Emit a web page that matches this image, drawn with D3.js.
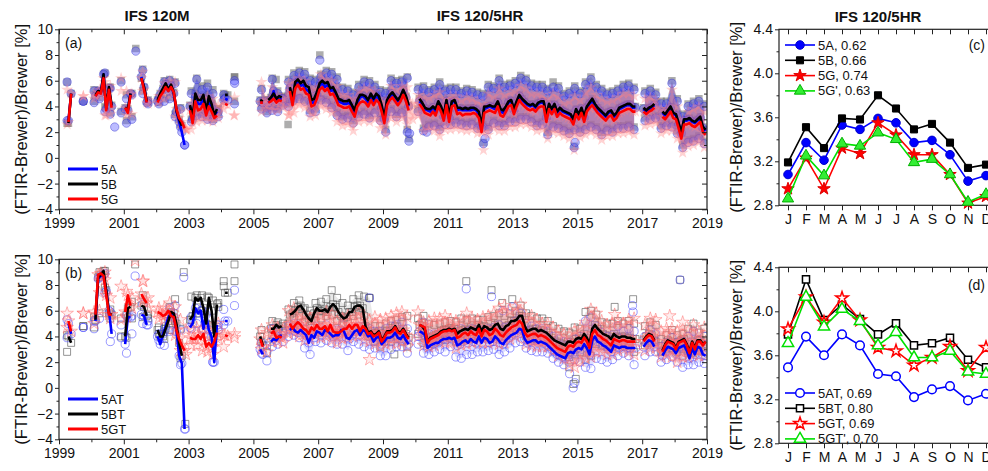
<!DOCTYPE html>
<html>
<head>
<meta charset="utf-8">
<script src="https://cdn.jsdelivr.net/npm/d3@7"></script>
<style>
  body { margin: 0; background: #fff; }
  svg { display: block; }
</style>
</head>
<body>
<svg id="chart" width="988" height="471"></svg>
<script>
const FONT = '"Liberation Sans", Arial, Helvetica, sans-serif';

// ---- panel (a): monthly means (Jan..Dec), "-" = no data ----
const a5A = `
1999 - - - 2.9 5.0 - - - - - - -
2000 - 4.8 5.2 5.1 6.5 3.8 5.4 4.0 - - - -
2001 3.8 3.7 5.0 - - - 6.3 5.5 4.3 - - -
2002 4.4 4.9 5.3 5.7 5.2 5.6 5.0 3.6 2.8 2.0 1.0 -
2003 4.0 3.0 4.7 4.2 4.2 4.6 3.6 4.4 3.9 3.3 3.6 -
2004 - 4.6 4.5 - - - - - - - - -
2005 - - 4.4 4.3 - 4.3 4.5 5.2 4.4 4.6 4.6 -
2006 - 5.4 4.4 5.6 5.9 5.6 5.7 5.3 5.2 4.3 4.3 4.9
2007 5.6 5.8 5.5 5.7 5.2 5.3 4.9 4.4 4.3 4.2 4.2 4.3
2008 3.9 3.5 4.3 4.7 4.8 4.6 4.3 4.8 4.4 4.8 4.6 3.9
2009 3.0 4.4 4.7 5.0 4.7 4.4 4.7 5.2 4.7 4.0 - -
2010 - 4.4 4.2 3.8 3.7 3.6 3.9 3.6 4.3 3.9 3.2 4.4
2011 3.1 4.3 4.4 3.7 3.8 3.7 3.7 3.7 3.7 3.8 3.7 3.4
2012 2.3 3.8 3.9 4.0 3.9 3.8 4.3 3.6 3.5 3.9 4.3 4.4
2013 3.7 4.3 4.8 4.5 4.3 4.1 4.0 4.1 3.9 4.2 4.3 4.3
2014 3.1 4.1 3.7 4.1 3.5 3.8 3.6 3.5 3.4 3.3 2.9 3.7
2015 3.3 3.8 3.1 3.9 4.2 4.4 4.1 3.8 3.6 3.4 3.2 3.5
2016 3.6 3.2 3.4 3.8 3.9 4.0 4.1 4.1 3.9 3.9 - -
2017 3.8 3.6 3.8 3.9 4.1 - - 3.5 3.3 3.6 3.9 3.4
2018 3.3 2.6 1.9 2.9 2.9 3.0 2.8 2.7 2.9 3.1 2.3 2.1`;

const a5B = `
1999 - - - 2.7 5.0 - - - - - - -
2000 - 4.9 5.2 5.1 6.5 3.9 5.5 4.1 - - - -
2001 3.9 3.8 5.0 - - - 6.2 5.5 4.4 - - -
2002 4.5 5.0 5.4 5.8 5.3 5.7 5.1 3.7 3.0 2.5 - -
2003 4.1 3.2 5.0 4.5 4.5 4.9 3.6 4.8 4.2 3.3 3.8 -
2004 - 4.9 4.9 - - - - - - - - -
2005 - - 4.5 4.4 - 4.5 4.7 5.0 4.6 4.8 4.7 -
2006 - 5.5 4.6 5.9 6.1 5.8 6.0 5.6 5.5 4.5 4.6 5.1
2007 5.8 6.0 5.8 5.9 5.4 5.5 5.1 4.6 4.5 4.4 4.4 4.5
2008 4.1 3.7 4.5 4.9 4.9 4.8 4.5 5.0 4.6 5.0 4.8 4.1
2009 3.1 4.5 4.9 5.1 4.8 4.5 4.8 5.3 4.8 4.1 - -
2010 - 4.6 4.3 3.9 3.8 3.8 4.0 3.8 4.4 4.0 3.3 4.5
2011 3.3 4.4 4.5 3.9 3.9 3.8 3.9 3.8 3.9 3.9 3.8 3.6
2012 2.5 4.0 4.0 4.1 4.0 4.0 4.4 3.8 3.7 4.0 4.4 4.5
2013 3.8 4.4 4.9 4.6 4.4 4.2 4.1 4.2 4.0 4.3 4.4 4.4
2014 3.3 4.2 3.8 4.2 3.6 3.9 3.7 3.6 3.5 3.4 3.0 3.8
2015 3.4 3.9 3.2 4.0 4.3 4.6 4.2 3.9 3.7 3.5 3.3 3.6
2016 3.7 3.3 3.5 3.9 4.0 4.1 4.2 4.2 4.0 4.0 - -
2017 3.9 3.7 3.9 4.0 4.2 - - 3.6 3.4 3.7 4.0 3.5
2018 3.4 2.7 2.0 3.0 3.0 3.1 2.9 2.8 3.0 3.2 2.4 2.2`;

const a5G = `
1999 - - - 2.8 5.0 - - - - - - -
2000 - 4.8 5.1 5.0 6.2 3.7 5.3 3.9 - - - -
2001 3.9 3.5 4.9 - - - 6.2 5.3 4.3 - - -
2002 4.3 4.8 5.1 5.5 5.2 5.5 5.1 3.8 3.1 2.8 2.3 -
2003 3.7 2.7 4.4 3.7 3.8 4.2 3.3 4.0 3.6 3.1 3.3 -
2004 - 4.2 4.1 - - - - - - - - -
2005 - - 4.3 4.3 - 4.3 4.4 4.6 4.3 4.5 4.4 -
2006 - 5.2 4.1 5.4 5.7 5.3 5.4 5.0 4.9 4.0 4.1 4.6
2007 5.3 5.5 5.2 5.4 4.9 5.0 4.6 4.1 4.0 3.9 3.9 4.0
2008 3.6 3.2 4.0 4.3 4.4 4.3 4.0 4.5 4.1 4.5 4.3 3.6
2009 2.7 4.1 4.5 4.7 4.4 4.1 4.4 4.9 4.4 3.7 - -
2010 - 4.2 3.9 3.5 3.4 3.3 3.6 3.3 4.0 3.6 2.9 4.1
2011 2.8 4.0 4.1 3.4 3.5 3.3 3.4 3.4 3.4 3.5 3.4 3.1
2012 2.0 3.5 3.6 3.7 3.6 3.5 4.0 3.3 3.2 3.6 4.0 4.1
2013 3.4 4.0 4.5 4.2 4.0 3.8 3.7 3.8 3.6 3.9 4.0 4.0
2014 2.8 3.8 3.4 3.8 3.2 3.5 3.3 3.2 3.1 3.0 2.6 3.4
2015 3.0 3.5 2.8 3.6 3.9 4.1 3.8 3.5 3.3 3.1 2.9 3.2
2016 3.3 2.9 3.1 3.5 3.6 3.7 3.8 3.8 3.6 3.6 - -
2017 3.6 3.4 3.6 3.7 3.9 - - 3.2 3.0 3.3 3.6 3.1
2018 3.0 2.3 1.5 2.6 2.6 2.7 2.5 2.4 2.6 2.8 2.0 1.8`;

// ---- panel (a): scatter cloud, upper / lower edge per two months ----
const a5AHi = `
1999 - 5.9 - - 4.4 -
2000 5.2 5.1 6.6 5.4 - 5.9
2001 4.6 4.9 - 6.8 4.4 -
2002 4.6 5.9 6.0 5.8 3.8 -
2003 5.0 6.1 5.3 5.5 5.0 3.6
2004 4.9 - 6.0 - - -
2005 - 5.3 4.4 6.1 5.0 4.6
2006 5.9 6.4 6.6 6.5 6.0 5.9
2007 6.3 6.6 6.5 6.1 5.3 5.2
2008 4.9 5.5 5.9 5.8 5.5 5.1
2009 5.0 6.0 5.8 5.9 6.2 -
2010 5.3 5.4 5.1 5.3 5.7 5.2
2011 5.3 5.3 5.0 5.2 5.1 4.9
2012 4.8 5.5 5.4 6.0 5.5 5.6
2013 5.8 6.2 6.0 5.6 5.5 5.5
2014 5.2 5.5 5.4 4.8 5.0 5.4
2015 5.0 5.7 6.1 5.5 5.2 4.9
2016 5.0 5.2 5.5 5.6 5.3 -
2017 5.0 5.2 4.9 4.2 4.2 5.8
2018 4.4 3.2 4.0 4.2 4.4 4.0`;
const a5ALo = `
1999 - 2.9 - - 4.4 -
2000 4.3 4.6 3.6 3.4 - 3.5
2001 2.7 3.0 - 5.0 4.2 -
2002 4.2 4.4 4.6 3.2 2.4 -
2003 2.8 3.3 3.2 3.0 2.9 3.2
2004 4.5 - 4.2 - - -
2005 - 3.8 3.5 3.7 3.6 4.1
2006 4.0 4.5 4.6 4.4 3.5 3.6
2007 4.5 4.3 3.9 3.3 3.0 3.1
2008 2.7 3.2 3.4 3.1 3.5 2.9
2009 2.0 3.6 3.2 3.5 2.0 -
2010 3.6 2.1 2.4 2.5 2.2 2.6
2011 2.6 2.7 2.6 2.5 2.6 2.3
2012 2.4 2.2 2.7 2.5 2.5 2.8
2013 2.8 3.0 3.0 2.8 2.5 2.6
2014 1.8 2.4 2.3 2.1 1.9 2.2
2015 2.0 2.2 2.4 2.2 1.8 2.1
2016 2.0 2.3 2.3 2.4 2.2 -
2017 2.9 3.0 3.1 2.3 2.5 2.4
2018 1.9 0.8 1.2 1.3 1.5 1.1`;
const a5BHi = `
1999 - 5.9 - - 4.4 -
2000 5.3 5.2 6.6 5.5 - 6.0
2001 4.9 5.0 - 6.9 4.5 -
2002 4.7 6.0 6.1 5.9 3.9 -
2003 5.2 6.2 5.6 5.8 5.3 3.8
2004 5.0 - 6.3 - - -
2005 - 5.4 4.5 6.2 5.2 4.8
2006 6.1 6.6 6.8 6.7 6.2 6.1
2007 6.5 6.8 6.7 6.3 5.5 5.4
2008 5.1 5.7 6.1 6.0 5.7 5.3
2009 5.2 6.2 6.0 6.1 6.3 -
2010 5.5 5.6 5.3 5.5 5.9 5.4
2011 5.5 5.5 5.2 5.4 5.3 5.1
2012 5.0 5.7 5.6 6.2 5.7 5.8
2013 6.0 6.4 6.2 5.8 5.7 5.7
2014 5.4 5.9 5.6 5.0 5.2 5.6
2015 5.2 5.9 6.3 5.7 5.4 5.1
2016 5.2 5.4 5.7 5.8 5.5 -
2017 5.2 5.4 5.1 4.4 4.4 6.0
2018 4.6 3.4 4.2 4.4 4.6 4.2`;
const a5BLo = `
1999 - 2.7 - - 4.4 -
2000 4.4 4.7 4.0 3.5 - 3.6
2001 2.9 3.2 - 5.2 4.3 -
2002 4.3 4.6 4.7 3.4 2.6 -
2003 3.0 3.5 3.4 3.2 3.0 3.4
2004 4.7 - 4.4 - - -
2005 - 3.9 3.6 3.9 3.8 4.2
2006 4.2 4.6 4.7 4.5 3.7 3.8
2007 4.6 4.5 4.1 3.5 3.2 3.3
2008 2.9 3.4 3.6 3.3 3.7 3.1
2009 2.2 3.8 3.4 3.7 2.2 -
2010 3.8 2.3 2.6 2.7 2.4 2.8
2011 2.8 2.9 2.8 2.7 2.8 2.5
2012 2.6 2.4 2.9 2.7 2.7 3.0
2013 3.0 3.2 3.2 3.0 2.7 2.8
2014 2.0 2.6 2.5 2.3 2.1 2.3
2015 2.2 2.4 2.6 2.4 2.0 2.3
2016 2.2 2.5 2.5 2.6 2.4 -
2017 3.1 3.2 3.3 2.5 2.7 2.6
2018 2.1 1.0 1.4 1.5 1.7 1.3`;
const a5GHi = `
1999 - 5.3 - - 4.8 -
2000 5.0 5.3 5.9 5.6 - 6.2
2001 5.2 5.0 - 6.7 4.5 -
2002 4.8 5.8 6.0 5.9 3.6 2.2
2003 4.2 4.8 4.6 4.8 4.6 4.1
2004 4.4 - 4.7 - - -
2005 - 5.9 4.5 5.5 4.9 4.6
2006 5.8 6.0 6.2 6.0 5.5 5.4
2007 6.5 6.1 6.0 5.6 4.9 4.9
2008 4.6 5.2 5.4 5.4 5.2 4.6
2009 4.4 5.6 5.3 5.6 5.5 4.2
2010 4.9 4.8 4.7 4.9 5.1 4.6
2011 4.8 4.8 4.5 4.7 4.6 4.4
2012 4.2 5.0 4.8 5.4 4.9 5.1
2013 5.2 5.6 5.4 5.0 5.0 4.9
2014 4.6 5.0 4.8 4.3 4.4 4.8
2015 4.5 5.1 5.5 4.9 4.6 4.4
2016 4.5 4.7 5.0 5.0 4.8 -
2017 4.6 4.7 4.5 3.8 3.8 5.3
2018 4.0 2.9 3.6 3.8 4.0 3.6`;
const a5GLo = `
1999 - 2.6 - - 4.8 -
2000 4.6 4.8 3.3 3.4 - 5.2
2001 3.3 3.4 - 5.2 4.2 -
2002 4.4 4.6 4.8 3.2 2.6 2.2
2003 2.2 2.8 2.9 2.9 2.8 3.1
2004 3.8 - 3.3 - - -
2005 - 3.6 3.8 3.7 3.7 3.9
2006 3.3 3.5 4.1 3.9 3.2 3.3
2007 4.0 3.8 3.5 2.8 2.5 2.6
2008 2.1 2.8 2.9 2.8 3.0 2.3
2009 1.8 3.1 2.8 3.1 2.6 3.0
2010 3.3 2.1 2.2 2.1 1.7 2.2
2011 2.2 2.3 2.2 2.1 2.2 1.9
2012 2.0 1.8 2.3 2.1 2.1 2.4
2013 2.4 2.6 2.6 2.4 2.1 2.2
2014 1.5 2.0 1.9 1.7 1.5 1.8
2015 1.6 1.8 2.0 1.8 1.4 1.7
2016 1.7 1.9 1.9 2.0 1.8 -
2017 2.5 2.6 2.7 1.9 2.1 2.1
2018 1.5 0.4 0.9 1.0 1.2 0.8`;

// isolated points away from the cloud [year, %]
const a5AOut = [[2001.37, 8.3], [2007.05, 7.6], [2009.8, 1.3], [2009.82, 1.9], [2012.1, 1.1], [2012.15, 1.5], [2014.9, 0.8], [2014.93, 1.2], [2002.88, 1.0], [2000.72, 2.4], [2010.35, 2.0], [2004.42, 5.8]];
const a5BOut = [[2001.37, 8.5], [2006.07, 2.6], [2007.05, 8.0], [2009.8, 1.5], [2012.1, 1.2], [2014.9, 0.9], [2004.42, 6.3], [2005.7, 6.1]];
const a5GOut = [[2012.1, 0.6], [2014.9, 0.6], [2000.45, 3.3], [2004.4, 3.3], [2006.1, 3.3], [2002.95, 2.2]];

// ---- panel (b): monthly means ----
const b5AT = `
1999 - - - 5.0 4.2 - - - - - - -
2000 - 5.2 8.5 8.7 8.8 7.5 6.0 4.2 - - - -
2001 3.4 5.5 5.5 - - - 5.7 5.6 4.9 - - -
2002 4.0 3.4 4.2 4.8 5.5 5.8 5.5 4.4 2.5 1.9 -3.2 -
2003 4.7 5.0 6.2 5.8 6.0 4.6 5.7 4.5 4.0 2.0 4.9 -
2004 - 5.2 5.2 - - - - - - - - -
2005 - - 3.0 2.6 - - 3.6 3.8 3.7 4.0 4.1 -
2006 - 4.5 4.7 4.4 4.3 4.5 4.3 4.1 3.5 4.1 3.9 4.4
2007 4.3 4.1 4.5 4.4 4.2 4.0 4.1 4.1 4.5 4.4 3.9 3.8
2008 4.1 4.4 4.5 4.1 4.5 4.4 4.0 4.1 3.6 3.9 4.0 3.4
2009 3.6 3.9 3.9 4.0 4.3 3.9 3.8 4.1 3.7 3.4 - -
2010 - 4.4 4.3 4.1 3.1 3.3 3.4 3.5 3.5 3.7 3.8 3.8
2011 3.9 3.8 3.9 3.3 3.4 3.6 3.7 3.5 3.8 3.6 3.5 4.0
2012 3.5 3.9 3.8 3.5 3.6 4.0 3.8 3.5 3.4 3.7 3.9 4.1
2013 4.2 4.3 4.6 4.5 3.8 3.5 3.6 3.7 3.7 3.5 3.6 3.5
2014 3.4 3.2 3.0 2.8 2.6 2.5 2.4 2.3 2.7 2.8 2.7 3.0
2015 3.1 3.0 3.4 3.1 2.6 3.7 4.0 3.6 3.5 3.3 3.2 3.0
2016 2.8 3.3 3.2 3.1 3.2 3.2 3.1 3.1 3.1 3.1 - -
2017 3.2 3.5 3.7 3.6 3.2 - - 2.5 2.9 3.2 3.1 3.0
2018 2.7 3.1 3.2 3.3 2.9 2.3 3.1 2.6 3.2 3.1 2.6 2.5`;

const b5BT = `
1999 - - - 4.0 3.5 - - - - - - -
2000 - 5.3 8.6 8.8 9.1 7.6 5.8 5.7 - - - -
2001 4.0 6.2 6.3 - - - 6.4 6.3 5.6 - - -
2002 4.5 4.0 4.0 4.6 5.2 5.9 5.8 5.0 3.5 2.5 - -
2003 5.3 5.6 7.0 6.8 7.0 6.2 5.0 7.0 6.0 4.0 6.5 -
2004 - 7.4 7.4 - - - - - - - - -
2005 - - 4.0 3.3 - - 4.6 4.6 4.9 4.7 4.8 -
2006 - 5.7 5.8 6.0 6.3 6.4 6.1 5.7 5.4 5.2 5.8 6.2
2007 6.0 6.0 6.1 5.9 6.3 6.5 6.3 5.9 5.6 5.4 5.5 5.9
2008 5.9 6.3 6.4 6.4 6.2 4.8 4.3 4.4 4.1 4.2 4.4 3.7
2009 4.0 4.4 4.4 4.5 4.8 4.4 4.3 4.6 4.2 3.9 - -
2010 - 4.9 4.8 4.5 3.6 3.9 4.0 4.1 4.2 4.4 4.5 4.5
2011 4.6 4.5 4.6 4.2 4.4 4.5 4.6 4.5 4.7 4.6 4.5 4.9
2012 4.4 4.8 4.7 4.5 4.6 4.9 5.0 4.6 4.5 4.8 4.9 5.2
2013 5.2 5.3 5.6 5.6 4.8 4.4 4.5 4.6 4.6 4.4 4.5 4.4
2014 4.3 4.1 3.9 3.7 3.6 3.5 3.4 3.3 3.6 3.6 3.5 3.8
2015 3.9 3.8 4.2 3.9 3.4 4.6 4.9 4.6 4.4 4.2 4.1 4.0
2016 3.8 4.2 4.0 3.9 4.0 4.0 3.9 3.9 3.8 3.8 - -
2017 3.7 4.0 4.2 4.1 3.7 - - 2.9 3.4 3.7 3.6 3.5
2018 3.1 3.6 3.7 3.8 3.4 2.8 3.6 3.1 3.7 3.7 3.4 3.6`;

const b5GT = `
1999 - - - 5.2 4.4 - - - - - - -
2000 - 5.7 8.8 8.9 8.7 7.2 5.7 5.7 - - - -
2001 5.9 7.2 6.4 - - - 7.3 6.9 6.6 - - -
2002 5.9 5.8 5.6 5.7 6.0 5.6 5.5 4.5 3.8 3.3 2.9 -
2003 3.9 3.8 3.8 4.1 3.8 4.2 3.2 3.5 3.2 3.6 4.3 -
2004 - 4.1 4.0 - - - - - - - - -
2005 - - 3.8 3.2 - - 4.2 4.4 3.9 4.0 3.9 -
2006 - 5.0 4.6 4.9 5.1 4.9 4.6 4.5 4.2 4.7 4.5 4.9
2007 4.6 4.6 4.8 4.4 4.9 4.4 4.3 4.3 4.4 4.6 4.6 4.9
2008 4.6 4.9 4.9 4.4 4.8 4.6 4.2 4.3 4.0 4.1 4.3 3.6
2009 3.9 4.3 4.3 4.4 4.7 4.3 4.2 4.5 4.1 3.8 - -
2010 - 4.9 4.8 4.7 3.5 3.8 3.9 4.0 4.1 4.3 4.4 4.4
2011 4.5 4.4 4.5 3.9 4.0 4.2 4.3 4.1 4.4 4.2 4.1 4.6
2012 4.0 4.5 4.4 4.1 4.2 4.6 4.4 4.1 4.0 4.3 4.5 4.7
2013 4.8 4.9 5.2 5.0 4.3 4.0 4.1 4.2 4.2 4.0 4.1 4.0
2014 3.9 3.7 3.5 3.3 3.1 3.0 2.9 2.8 3.2 3.3 3.2 3.5
2015 3.6 3.5 3.9 3.6 3.1 4.2 4.5 4.1 4.0 3.8 3.7 3.5
2016 3.3 3.8 3.7 3.6 3.7 3.7 3.6 3.6 3.6 3.6 - -
2017 3.6 3.9 4.1 4.0 3.6 - - 2.8 3.3 3.6 3.5 3.4
2018 3.0 3.5 3.6 3.7 3.3 2.7 3.5 3.0 3.6 3.6 3.3 3.6`;

// ---- panel (b): scatter cloud edges per two months ----
const b5ATHi = `
1999 - 5.3 - - 4.7 -
2000 5.2 8.6 8.9 5.9 - 4.9
2001 5.6 5.6 - 6.5 5.2 -
2002 4.2 4.4 6.2 6.4 4.5 -
2003 5.5 6.5 6.0 5.9 4.2 4.9
2004 6.1 - 7.6 - - -
2005 - 3.5 2.8 4.6 4.5 4.3
2006 4.8 5.0 4.9 4.6 4.4 4.8
2007 4.7 4.9 4.6 4.5 4.9 4.2
2008 4.6 4.8 4.8 4.6 4.4 4.4
2009 4.6 4.8 4.9 5.1 4.6 -
2010 4.0 5.1 4.2 4.2 4.2 4.3
2011 4.4 4.2 4.6 4.4 4.6 4.5
2012 4.5 4.6 4.7 4.9 4.7 4.8
2013 5.2 5.8 5.0 4.8 4.6 4.6
2014 4.4 4.0 3.8 3.6 3.5 3.8
2015 4.0 5.2 5.5 4.8 4.3 4.0
2016 4.1 4.8 4.4 4.6 4.4 -
2017 4.0 4.5 4.2 3.2 3.5 3.9
2018 3.5 3.6 4.0 4.4 3.7 4.0`;
const b5ATLo = `
1999 - 3.9 - - 4.7 -
2000 4.6 5.4 7.4 3.6 - 3.9
2001 2.7 4.2 - 5.0 4.9 -
2002 3.7 3.3 4.4 4.4 1.8 -
2003 4.6 5.0 4.5 4.0 2.0 4.5
2004 4.9 - 6.4 - - -
2005 - 2.7 2.1 3.2 3.4 3.6
2006 4.0 4.1 3.9 3.1 2.6 3.6
2007 3.5 3.7 3.5 3.4 3.4 2.9
2008 3.6 3.4 3.2 3.0 3.1 2.5
2009 2.5 3.0 3.2 3.2 2.7 -
2010 3.4 2.7 2.6 2.8 3.0 2.8
2011 3.2 2.4 2.3 2.6 2.6 2.8
2012 2.8 2.9 3.0 2.6 2.8 3.1
2013 3.5 3.6 3.1 2.9 2.8 2.8
2014 2.7 2.3 2.0 1.8 2.0 2.2
2015 2.0 1.6 1.5 2.3 2.2 2.0
2016 2.2 2.5 2.7 2.5 1.8 -
2017 2.5 2.8 2.8 2.0 2.2 2.4
2018 2.0 1.6 1.8 1.8 2.0 1.9`;
const b5BTHi = `
1999 - 4.1 - - 4.8 -
2000 5.5 9.0 9.1 6.1 - 5.4
2001 5.7 6.7 - 7.2 5.7 -
2002 4.7 4.6 6.3 6.9 4.6 -
2003 7.1 7.2 7.2 7.1 6.8 6.6
2004 8.3 - 9.6 - - -
2005 - 4.5 3.3 5.2 5.1 5.0
2006 6.1 6.6 6.8 6.2 6.0 6.6
2007 6.7 6.9 7.6 7.0 6.6 6.4
2008 6.9 7.2 7.1 7.0 4.8 4.8
2009 5.0 5.2 5.3 5.5 5.6 -
2010 5.4 5.6 5.0 4.9 5.0 5.1
2011 5.2 5.1 5.4 5.3 5.4 5.3
2012 5.3 5.5 5.6 5.8 5.6 5.8
2013 6.0 6.4 5.8 5.6 5.4 5.4
2014 5.2 4.8 4.6 4.4 4.3 4.7
2015 4.6 5.9 6.0 5.7 5.1 5.0
2016 5.0 5.2 5.0 5.2 5.0 -
2017 4.8 5.1 4.9 3.8 4.1 4.5
2018 4.1 4.2 4.6 5.0 4.3 4.6`;
const b5BTLo = `
1999 - 2.8 - - 4.8 -
2000 4.7 5.8 7.8 5.4 - 4.0
2001 3.9 5.4 - 5.5 5.4 -
2002 4.2 3.8 4.5 5.2 2.3 -
2003 5.3 5.8 6.0 4.9 4.0 6.3
2004 7.9 - 8.3 - - -
2005 - 3.6 2.7 4.1 4.4 4.4
2006 5.0 5.4 5.6 5.1 4.8 5.2
2007 5.4 5.6 5.7 5.2 5.0 5.1
2008 5.6 5.7 5.6 4.0 3.6 3.2
2009 3.6 3.6 3.8 3.6 3.2 -
2010 4.2 3.5 3.4 3.6 3.8 3.7
2011 4.0 3.6 3.7 3.8 3.8 4.0
2012 3.9 4.0 4.1 4.0 4.2 4.3
2013 4.6 4.8 4.0 3.8 3.8 3.8
2014 3.8 3.4 3.0 2.8 2.4 2.6
2015 2.8 2.2 2.5 3.4 3.3 3.2
2016 3.2 3.4 3.5 3.3 2.8 -
2017 3.3 3.5 3.6 2.8 3.0 3.1
2018 2.8 2.5 2.7 2.7 2.9 2.8`;
const b5GTHi = `
1999 - 5.8 - - 5.8 -
2000 5.9 7.4 9.0 7.0 - 7.9
2001 7.5 7.0 - 8.3 7.0 -
2002 6.2 6.2 6.6 6.3 5.3 4.5
2003 4.6 4.7 4.6 4.5 4.9 5.0
2004 4.1 - 4.2 - - -
2005 - 4.5 4.3 4.9 4.7 4.6
2006 6.0 6.2 5.8 5.6 5.4 5.7
2007 5.6 5.9 5.8 5.2 5.4 5.6
2008 5.7 5.9 5.6 5.2 5.5 5.3
2009 5.4 5.6 5.8 5.9 5.5 -
2010 5.9 5.1 5.2 5.4 5.4 5.6
2011 5.3 5.2 5.3 5.8 5.4 5.3
2012 5.5 5.6 5.8 6.2 6.4 6.0
2013 6.3 6.5 5.6 5.6 5.3 5.0
2014 5.0 4.7 4.4 4.2 4.1 4.5
2015 4.6 5.1 6.1 5.8 5.2 4.9
2016 5.0 5.2 5.0 5.3 5.4 -
2017 4.9 5.4 5.3 4.4 4.6 4.6
2018 4.4 5.1 4.4 4.9 4.3 4.7`;
const b5GTLo = `
1999 - 4.7 - - 5.8 -
2000 5.0 6.0 8.4 5.4 - 5.3
2001 5.5 6.2 - 6.7 6.2 -
2002 5.4 5.3 5.2 4.1 2.9 2.6
2003 3.3 3.3 2.9 2.8 2.6 3.8
2004 3.2 - 3.9 - - -
2005 - 3.0 2.8 3.6 3.6 3.5
2006 4.2 4.3 4.0 3.7 3.8 4.1
2007 3.9 4.0 3.7 3.5 3.8 3.9
2008 4.0 4.1 3.7 3.6 3.4 3.2
2009 3.4 3.5 3.4 3.6 3.2 -
2010 4.0 3.3 3.2 3.3 3.6 3.5
2011 3.6 3.1 3.3 3.4 3.5 3.6
2012 3.5 3.5 3.6 3.4 3.5 3.8
2013 4.0 4.2 3.4 3.3 3.2 3.2
2014 3.2 2.9 2.5 2.3 1.8 1.6
2015 2.1 2.3 2.4 2.8 2.8 2.6
2016 2.6 2.9 3.0 2.8 2.6 -
2017 2.9 3.1 3.1 2.4 2.6 2.4
2018 2.0 2.4 2.4 2.6 2.5 2.5`;

const b5ATOut = [[2001.35, 8.7], [2002.9, -3.2], [2002.85, 8.6], [2008.58, 7.0], [2011.57, 7.7], [2012.35, 7.1], [2012.7, 6.0], [2012.99, 6.3], [2014.87, 0.0], [2014.92, 0.4], [2014.76, 1.1], [2016.7, 6.4], [2016.72, 5.9], [2018.17, 8.4], [2003.75, 2.0], [2003.9, 4.7]];
const b5BTOut = [[2001.35, 9.6], [2002.9, -2.8], [2002.85, 9.0], [2011.57, 8.3], [2012.35, 7.6], [2012.68, 6.6], [2012.99, 6.9], [2014.88, 0.3], [2014.95, 0.7], [2014.75, 1.6], [2016.15, 6.3], [2016.72, 6.9], [2018.17, 8.4], [2009.35, 2.6], [2008.58, 7.0]];
const b5GTOut = [[2001.35, 9.9], [2008.58, 2.2], [2017.85, 5.6], [2016.15, 5.7], [2001.6, 8.3]];

// ---- panels (c), (d): seasonal means ----
const monthLabels = ['J', 'F', 'M', 'A', 'M', 'J', 'J', 'A', 'S', 'O', 'N', 'D'];
const c5A  = [3.08, 3.37, 3.21, 3.53, 3.49, 3.59, 3.55, 3.37, 3.39, 3.26, 3.02, 3.07];
const c5B  = [3.19, 3.51, 3.32, 3.59, 3.58, 3.80, 3.68, 3.49, 3.54, 3.37, 3.14, 3.17];
const c5G  = [2.95, 3.23, 2.95, 3.32, 3.27, 3.55, 3.44, 3.26, 3.26, 3.08, 2.82, 2.88];
const c5Gp = [2.86, 3.25, 3.07, 3.36, 3.34, 3.46, 3.40, 3.19, 3.22, 3.08, 2.83, 2.90];
const d5AT  = [3.49, 3.77, 3.60, 3.79, 3.69, 3.43, 3.41, 3.22, 3.29, 3.32, 3.19, 3.25];
const d5BT  = [3.79, 4.29, 3.92, 4.06, 3.93, 3.79, 3.89, 3.69, 3.71, 3.76, 3.56, 3.49];
const d5GT  = [3.84, 4.13, 3.90, 4.12, 3.92, 3.67, 3.64, 3.51, 3.58, 3.68, 3.46, 3.67];
const d5GTp = [3.71, 4.13, 3.86, 4.02, 3.91, 3.69, 3.81, 3.58, 3.58, 3.64, 3.45, 3.43];
const cLegend = ["5A, 0.62", "5B, 0.66", "5G, 0.74", "5G', 0.63"];
const dLegend = ["5AT, 0.69", "5BT, 0.80", "5GT, 0.69", "5GT', 0.70"];

// ---------------------------------------------------------------
function parseGrid(txt) {
  const out = [];
  txt.trim().split('\n').forEach(row => {
    const cells = row.trim().split(/\s+/);
    const yr = +cells[0];
    const vals = cells.slice(1);
    vals.forEach((c, i) => out.push({ t: yr + (i + 0.5) / vals.length, v: c === '-' ? null : +c }));
  });
  return out;
}
function cloud(hiTxt, loTxt) {
  const hi = parseGrid(hiTxt), lo = parseGrid(loTxt);
  return hi.map((d, i) => ({ t: d.t, hi: d.v, lo: lo[i].v }));
}

const svg = d3.select('#chart').attr('font-family', FONT);

function styleAxis(sel) {
  sel.select('.domain').remove();
  sel.selectAll('line').attr('stroke', '#222').attr('stroke-width', 1);
  sel.attr('font-size', 14).attr('font-family', FONT);
  sel.selectAll('text').attr('fill', '#111');
}
const noLabel = () => '';

function frame(g, x, y, o) {
  const [xl, xr] = x.range();
  const [yb, yt] = y.range();
  g.append('g').attr('transform', `translate(0,${yb})`)
    .call(d3.axisBottom(x).tickValues(o.xMajor).tickFormat(o.xFmt).tickSize(5).tickPadding(4).tickSizeOuter(0)).call(styleAxis);
  g.append('g').attr('transform', `translate(0,${yb})`)
    .call(d3.axisBottom(x).tickValues(o.xMinor).tickFormat(noLabel).tickSize(3).tickSizeOuter(0)).call(styleAxis);
  g.append('g').attr('transform', `translate(0,${yt})`)
    .call(d3.axisBottom(x).tickValues(o.xMajor).tickFormat(noLabel).tickSize(5).tickSizeOuter(0)).call(styleAxis);
  g.append('g').attr('transform', `translate(0,${yt})`)
    .call(d3.axisBottom(x).tickValues(o.xMinor).tickFormat(noLabel).tickSize(3).tickSizeOuter(0)).call(styleAxis);
  g.append('g').attr('transform', `translate(${xl},0)`)
    .call(d3.axisLeft(y).tickValues(o.yMajor).tickFormat(o.yFmt).tickSize(4).tickPadding(2).tickSizeOuter(0)).call(styleAxis);
  g.append('g').attr('transform', `translate(${xl},0)`)
    .call(d3.axisLeft(y).tickValues(o.yMinor).tickFormat(noLabel).tickSize(2.5).tickSizeOuter(0)).call(styleAxis);
  g.append('g').attr('transform', `translate(${xr},0)`)
    .call(d3.axisLeft(y).tickValues(o.yMajor).tickFormat(noLabel).tickSize(5).tickSizeOuter(0)).call(styleAxis);
  g.append('g').attr('transform', `translate(${xr},0)`)
    .call(d3.axisLeft(y).tickValues(o.yMinor).tickFormat(noLabel).tickSize(3).tickSizeOuter(0)).call(styleAxis);
  g.append('rect').attr('x', xl).attr('y', yt).attr('width', xr - xl).attr('height', yb - yt)
    .attr('fill', 'none').attr('stroke', '#222').attr('stroke-width', 1.2);
}

function yTitle(cx, cy) {
  svg.append('text').attr('transform', `translate(${cx},${cy}) rotate(-90)`)
    .attr('text-anchor', 'middle').attr('dy', '0.35em').attr('font-size', 16.5).attr('fill', '#111')
    .text('(FTIR-Brewer)/Brewer [%]');
}

// ---------------- time series panels ----------------
function timePanel(cfg) {
  const x = d3.scaleLinear().domain([1999, 2019]).range([59, 707]);
  const y = d3.scaleLinear().domain([-4, 10]).range([cfg.bottom, cfg.top]);
  const g = svg.append('g');
  const clipId = 'clip-' + cfg.key;
  svg.append('clipPath').attr('id', clipId).append('rect')
    .attr('x', x(1999)).attr('y', y(10)).attr('width', x(2019) - x(1999)).attr('height', y(-4) - y(10));
  const plot = g.append('g').attr('clip-path', `url(#${clipId})`);

  cfg.series.forEach(s => {
    const line = parseGrid(s.line);
    const cl = cloud(s.hi, s.lo);
    // shaded band only where the reference cloud is dense
    const band = d3.area().defined(d => d.hi != null && d.lo != null && d.t > cfg.bandFrom)
      .x(d => x(d.t)).y0(d => y(d.lo)).y1(d => y(d.hi));
    plot.append('path').datum(cl).attr('d', band).attr('fill', s.band).attr('stroke', 'none');
    const pts = []
      .concat(cl.filter(d => d.hi != null).map(d => ({ t: d.t, v: d.hi })))
      .concat(cl.filter(d => d.lo != null).map(d => ({ t: d.t, v: d.lo })))
      .concat(line.filter(d => d.v != null))
      .concat(s.out.map(d => ({ t: d[0], v: d[1] })));
    const sym = d3.symbol().type(s.symbol).size(s.size)();
    plot.append('g').selectAll('path').data(pts).join('path')
      .attr('transform', d => `translate(${x(d.t)},${y(d.v)})`)
      .attr('d', sym)
      .attr('fill', s.fill).attr('stroke', s.stroke).attr('stroke-width', s.sw);
    s.parsed = line;
  });

  cfg.lineOrder.forEach(i => {
    const s = cfg.series[i];
    plot.append('path').datum(s.parsed)
      .attr('d', d3.line().defined(d => d.v != null).x(d => x(d.t)).y(d => y(d.v)))
      .attr('fill', 'none').attr('stroke', s.color).attr('stroke-width', 2.6).attr('stroke-linejoin', 'round');
  });

  frame(g, x, y, {
    xMajor: d3.range(1999, 2020, 2), xMinor: d3.range(2000, 2019, 2), xFmt: d3.format('d'),
    yMajor: d3.range(-4, 11, 2), yMinor: d3.range(-3, 10, 2), yFmt: d3.format('d')
  });

  // legend
  cfg.legend.forEach((lab, i) => {
    const s = cfg.series[cfg.legendOrder[i]];
    const ly = cfg.legendY + i * 15;
    g.append('line').attr('x1', 68).attr('x2', 98).attr('y1', ly).attr('y2', ly)
      .attr('stroke', s.color).attr('stroke-width', 3);
    g.append('text').attr('x', 101).attr('y', ly).attr('dy', '0.35em').attr('font-size', 13).attr('fill', '#111').text(lab);
  });
  g.append('text').attr('x', 65).attr('y', cfg.top + 14).attr('dy', '0.35em').attr('font-size', 14).attr('fill', '#111').text(cfg.tag);
  yTitle(21.5, (cfg.top + cfg.bottom) / 2);
}

timePanel({
  key: 'a', top: 29.3, bottom: 209.3, tag: '(a)', legendY: 169, bandFrom: 2002.95,
  legend: ['5A', '5B', '5G'], legendOrder: [1, 0, 2], lineOrder: [1, 0, 2],
  series: [
    { line: a5B, hi: a5BHi, lo: a5BLo, out: a5BOut, color: '#000', symbol: d3.symbolSquare, size: 56,
      fill: 'rgba(105,105,105,0.55)', stroke: 'none', sw: 0, band: 'rgba(110,110,120,0.4)' },
    { line: a5A, hi: a5AHi, lo: a5ALo, out: a5AOut, color: '#0000ff', symbol: d3.symbolCircle, size: 55,
      fill: 'rgba(95,95,255,0.42)', stroke: 'rgba(40,40,200,0.5)', sw: 0.8, band: 'rgba(85,85,220,0.6)' },
    { line: a5G, hi: a5GHi, lo: a5GLo, out: a5GOut, color: '#ff0000', symbol: d3.symbolStar, size: 45,
      fill: 'rgba(255,130,130,0.35)', stroke: 'none', sw: 0, band: 'rgba(255,125,125,0.4)' }
  ]
});

timePanel({
  key: 'b', top: 259.3, bottom: 439.3, tag: '(b)', legendY: 399, bandFrom: 2005.9,
  legend: ['5AT', '5BT', '5GT'], legendOrder: [1, 0, 2], lineOrder: [1, 0, 2],
  series: [
    { line: b5BT, hi: b5BTHi, lo: b5BTLo, out: b5BTOut, color: '#000', symbol: d3.symbolSquare, size: 48,
      fill: 'none', stroke: 'rgba(80,80,80,0.6)', sw: 1, band: 'rgba(130,130,130,0.18)' },
    { line: b5AT, hi: b5ATHi, lo: b5ATLo, out: b5ATOut, color: '#0000ff', symbol: d3.symbolCircle, size: 52,
      fill: 'none', stroke: 'rgba(70,70,255,0.55)', sw: 1, band: 'rgba(100,100,255,0.22)' },
    { line: b5GT, hi: b5GTHi, lo: b5GTLo, out: b5GTOut, color: '#ff0000', symbol: d3.symbolStar, size: 50,
      fill: 'rgba(255,140,140,0.15)', stroke: 'rgba(255,110,110,0.5)', sw: 1, band: 'rgba(250,125,125,0.42)' }
  ]
});

// titles
svg.append('text').attr('x', 157).attr('y', 21).attr('text-anchor', 'middle').attr('font-size', 15)
  .attr('font-weight', 'bold').attr('fill', '#111').text('IFS 120M');
svg.append('text').attr('x', 480).attr('y', 21).attr('text-anchor', 'middle').attr('font-size', 15)
  .attr('font-weight', 'bold').attr('fill', '#111').text('IFS 120/5HR');
svg.append('text').attr('x', 878).attr('y', 22).attr('text-anchor', 'middle').attr('font-size', 15)
  .attr('font-weight', 'bold').attr('fill', '#111').text('IFS 120/5HR');

// ---------------- seasonal panels ----------------
function seasonPanel(cfg) {
  const x = d3.scaleLinear().domain([0.5, 12.5]).range([779, 995]);
  const y = d3.scaleLinear().domain([2.8, 4.4]).range([cfg.bottom, cfg.top]);
  const g = svg.append('g');
  frame(g, x, y, {
    xMajor: d3.range(1, 13), xMinor: [], xFmt: d => monthLabels[d - 1],
    yMajor: [2.8, 3.2, 3.6, 4.0, 4.4], yMinor: [3.0, 3.4, 3.8, 4.2], yFmt: d3.format('.1f')
  });
  cfg.series.forEach(s => {
    const pts = s.values.map((v, i) => ({ m: i + 1, v }));
    g.append('path').datum(pts)
      .attr('d', d3.line().x(d => x(d.m)).y(d => y(d.v)))
      .attr('fill', 'none').attr('stroke', s.color).attr('stroke-width', 1.6);
    const sym = d3.symbol().type(s.symbol).size(s.size)();
    g.append('g').selectAll('path').data(pts).join('path')
      .attr('transform', d => `translate(${x(d.m)},${y(d.v)})`)
      .attr('d', sym)
      .attr('fill', cfg.open ? '#fff' : s.fill)
      .attr('stroke', cfg.open ? s.color : s.edge).attr('stroke-width', cfg.open ? 1.5 : 1);
  });
  cfg.series.forEach((s, i) => {
    const ly = cfg.legendY + i * 15.3;
    g.append('line').attr('x1', 785).attr('x2', 815).attr('y1', ly).attr('y2', ly)
      .attr('stroke', s.color).attr('stroke-width', 1.6);
    g.append('path').attr('transform', `translate(800,${ly})`).attr('d', d3.symbol().type(s.symbol).size(s.size)())
      .attr('fill', cfg.open ? '#fff' : s.fill)
      .attr('stroke', cfg.open ? s.color : s.edge).attr('stroke-width', cfg.open ? 1.5 : 1);
    g.append('text').attr('x', 818).attr('y', ly).attr('dy', '0.35em').attr('font-size', 13).attr('fill', '#111')
      .text(cfg.legend[i]);
  });
  g.append('text').attr('x', 985).attr('y', cfg.tagY).attr('dy', '0.35em').attr('text-anchor', 'end')
    .attr('font-size', 14).attr('fill', '#111').text(cfg.tag);
  yTitle(736.5, (cfg.top + cfg.bottom) / 2);
}

const seasonStyle = [
  { color: '#0000ff', fill: '#0000ff', edge: '#0000cc', symbol: d3.symbolCircle, size: 58 },
  { color: '#000', fill: '#000', edge: '#000', symbol: d3.symbolSquare, size: 50 },
  { color: '#ff0000', fill: '#ff0000', edge: '#dd0000', symbol: d3.symbolStar, size: 48 },
  { color: '#00e000', fill: '#33ee33', edge: '#00b000', symbol: d3.symbolTriangle, size: 55 }
];

seasonPanel({
  top: 29.3, bottom: 205.3, legendY: 45, tag: '(c)', tagY: 45, open: false, legend: cLegend,
  series: [c5A, c5B, c5G, c5Gp].map((v, i) => Object.assign({ values: v }, seasonStyle[i]))
});
seasonPanel({
  top: 267.3, bottom: 443.3, legendY: 393, tag: '(d)', tagY: 285, open: true, legend: dLegend,
  series: [d5AT, d5BT, d5GT, d5GTp].map((v, i) => Object.assign({ values: v }, seasonStyle[i]))
});
</script>
</body>
</html>
